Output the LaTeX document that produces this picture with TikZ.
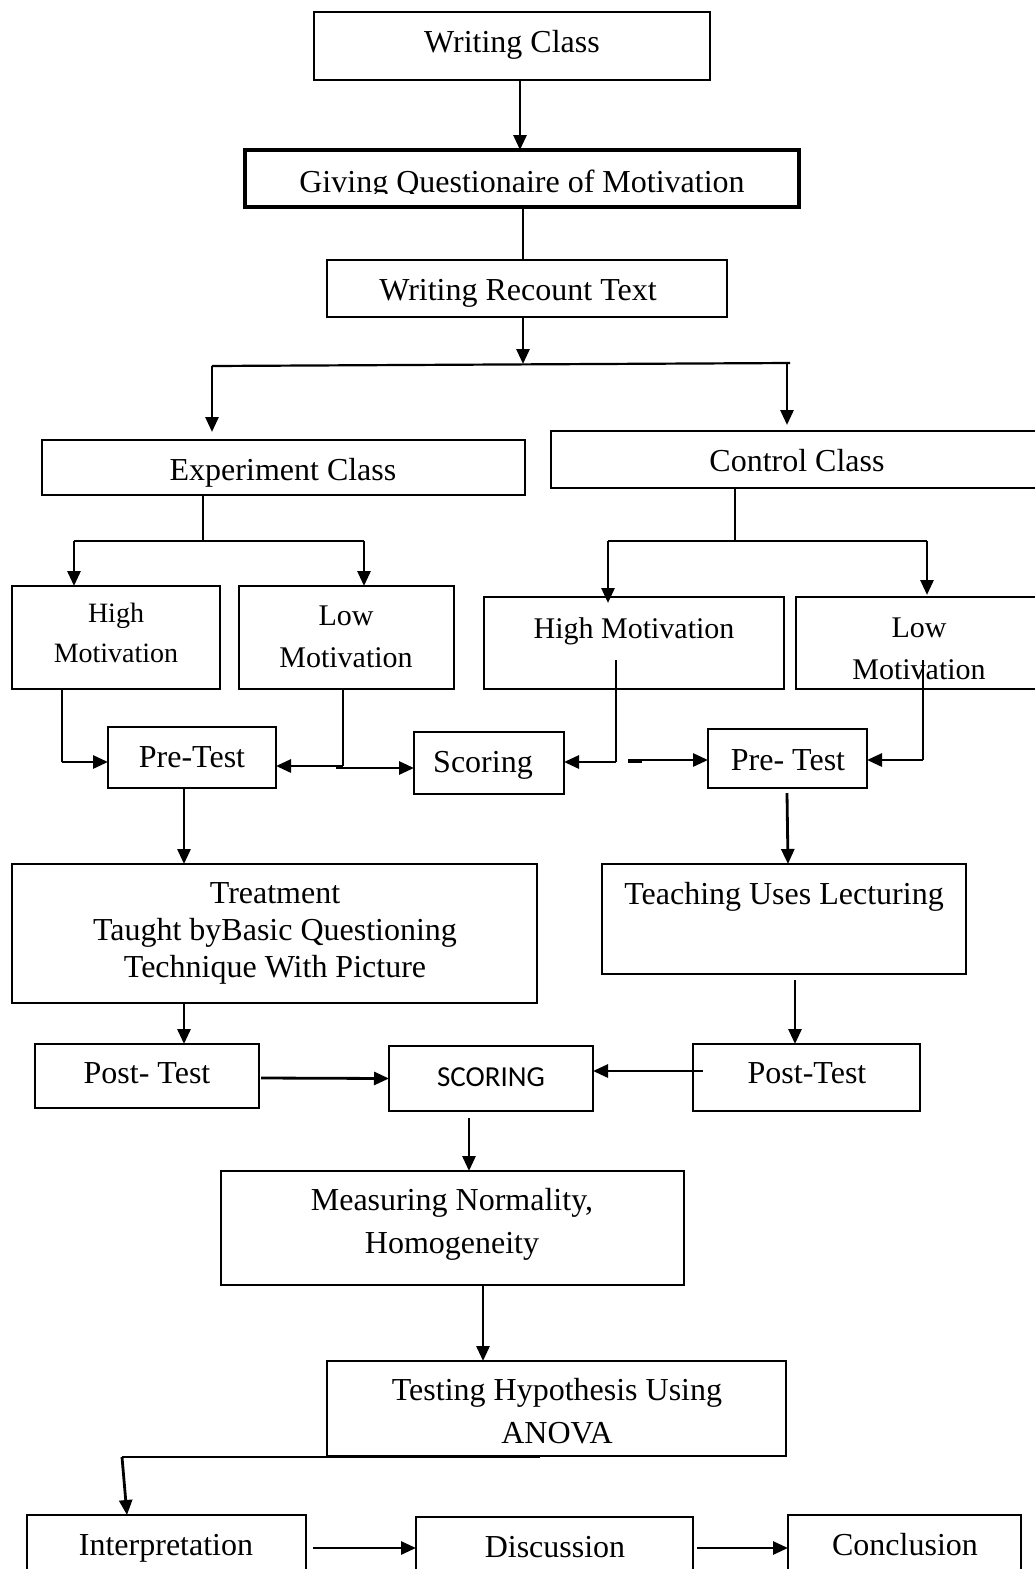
\documentclass[tikz,border=0pt]{standalone}
\usepackage{fontspec}
\setmainfont{Liberation Serif}
\newfontfamily\scorefont{Carlito}
\usetikzlibrary{arrows.meta,calc}
\newcommand\bx[6][]{\node[box,#1,minimum width={#4-#2},minimum height={#5-#3}] (#6) at ({(#2+#4)/2},{(#3+#5)/2}) {};}
\begin{document}
\begin{tikzpicture}[x=1pt,y=-1pt,
 box/.style={draw,line width=1.4pt,inner sep=0pt,outer sep=0pt},
 thickbox/.style={line width=4.5pt},
 txt/.style={anchor=base,inner sep=0pt,font=\fontsize{32}{38}\selectfont},
 mtxt/.style={anchor=base,inner sep=0pt,font=\fontsize{30}{36}\selectfont},
 stxt/.style={anchor=base,inner sep=0pt,font=\fontsize{28}{34}\selectfont},
 ln/.style={line width=2.2pt},
 arr/.style={line width=2.8pt,-{Triangle[length=15pt,width=13pt]}}]
\useasboundingbox (0,0) rectangle (1035,1569);
\clip (0,0) rectangle (1035,1569);
% boxes
\bx{314}{12}{710}{80}{wc}
\bx[thickbox]{245}{150}{799}{207}{gq}
\bx{327}{260}{727}{317}{wr}
\bx{42}{440}{525}{495}{ec}
\bx{551}{431}{1045}{488}{cc}
\bx{12}{586}{220}{689}{hl}
\bx{239}{586}{454}{689}{ll}
\bx{484}{597}{784}{689}{hr}
\bx{796}{597}{1045}{689}{lr}
\bx{108}{727}{276}{788}{pl}
\bx{414}{732}{564}{794}{sc}
\bx{708}{729}{867}{788}{pr}
\bx{12}{864}{537}{1003}{tr}
\bx{602}{864}{966}{974}{tl}
\bx{35}{1044}{259}{1108}{pt1}
\bx{389}{1046}{593}{1111}{sc2}
\bx{693}{1044}{920}{1111}{pt2}
\bx{221}{1171}{684}{1285}{ms}
\bx{327}{1361}{786}{1456}{th}
\bx{27}{1515}{306}{1590}{ip}
\bx[line width=2.4pt]{416}{1517}{693}{1590}{ds}
\bx[line width=2pt]{788}{1515}{1021}{1590}{cn}
% texts
\node[txt] (t-wc) at (512,52) {Writing Class};
\begin{scope}
\clip (250,150) rectangle (795,193);
\node[txt] (t-gq) at (522,192) {Giving Questionaire of Motivation};
\end{scope}
\node[txt] (t-wr) at (518,300) {Writing Recount Text};
\node[txt] (t-ec) at (283,480) {Experiment Class};
\node[txt] (t-cc) at (797,471) {Control Class};
\node[stxt] (t-hl1) at (116,622) {High};
\node[stxt] (t-hl2) at (116,662) {Motivation};
\node[mtxt] (t-ll1) at (346,625) {Low};
\node[mtxt] (t-ll2) at (346,667) {Motivation};
\node[mtxt] (t-hr) at (634,638) {High Motivation};
\node[mtxt] (t-lr1) at (919,637) {Low};
\node[mtxt] (t-lr2) at (919,679) {Motivation};
\node[txt] (t-pl) at (192,767) {Pre-Test};
\node[txt] (t-sc) at (483,772) {Scoring};
\node[txt] (t-pr) at (788,770) {Pre- Test};
\node[txt] (t-tr1) at (275,903) {Treatment};
\node[txt] (t-tr2) at (275,940) {Taught byBasic Questioning};
\node[txt] (t-tr3) at (275,977) {Technique With Picture};
\node[txt] (t-tl) at (784,904) {Teaching Uses Lecturing};
\node[txt] (t-pt1) at (147,1083) {Post- Test};
\node[anchor=base,inner sep=0pt,font=\scorefont\fontsize{29}{34}\selectfont] (t-sc2) at (491,1086) {SCORING};
\node[txt] (t-pt2) at (807,1083) {Post-Test};
\node[txt] (t-ms1) at (452,1210) {Measuring Normality,};
\node[txt] (t-ms2) at (452,1253) {Homogeneity};
\node[txt] (t-th1) at (557,1400) {Testing Hypothesis Using};
\node[txt] (t-th2) at (557,1443) {ANOVA};
\node[txt] (t-ip) at (166,1555) {Interpretation};
\node[txt] (t-ds) at (555,1557) {Discussion};
\node[txt] (t-cn) at (905,1555) {Conclusion};
% coordinates
\coordinate (x520) at (520,0);
\coordinate (x523) at (523,0);
\coordinate (split) at (523,364);
\coordinate (sl) at (212,366);
\coordinate (sr) at (790,363);
\coordinate (srd) at (787,364);
\coordinate (ej) at (203,541);
\coordinate (el) at (74,541);
\coordinate (er) at (364,541);
\coordinate (cj) at (735,541);
\coordinate (cl) at (608,541);
\coordinate (cr) at (927,541);
\coordinate (hlc) at (62,762);
\coordinate (llc) at (343,766);
\coordinate (llc2) at (336,768);
\coordinate (hrt) at (616,660);
\coordinate (hrc) at (616,762);
\coordinate (hrc2) at (628,760);
\coordinate (lrt) at (923,660);
\coordinate (lrc) at (923,760);
\coordinate (x184) at (184,0);
\coordinate (prb) at (787,793);
\coordinate (x788) at (788,0);
\coordinate (tlb) at (795,980);
\coordinate (pta) at (261,1078);
\coordinate (c703) at (703,1071);
\coordinate (s2b) at (469,1118);
\coordinate (x483) at (483,0);
\coordinate (tb1) at (540,1457);
\coordinate (tb2) at (122,1457);
\coordinate (ipa) at (127,0);
\coordinate (ia) at (313,1548);
\coordinate (da) at (697,1548);
% connectors
\draw[arr] (x520 |- wc.south) -- (x520 |- gq.north);
\draw[ln] (x523 |- gq.south) -- (x523 |- wr.north);
\draw[arr] (x523 |- wr.south) -- (split);
\draw[ln] (sl) -- (sr);
\draw[arr,shorten >=8pt] (sl) -- (sl |- ec.north);
\draw[arr,shorten >=6pt] (srd) -- (srd |- cc.north);
\draw[ln] (ej |- ec.south) -- (ej);
\draw[ln] (el) -- (er);
\draw[arr] (el) -- (el |- hl.north);
\draw[arr] (er) -- (er |- ll.north);
\draw[ln] (cj |- cc.south) -- (cj);
\draw[ln] (cl) -- (cr);
\draw[arr,shorten >=-6pt] (cl) -- (cl |- hr.north);
\draw[arr,shorten >=2pt] (cr) -- (cr |- lr.north);
\draw[ln] (hlc |- hl.south) -- (hlc);
\draw[arr] (hlc) -- (hlc -| pl.west);
\draw[ln,line width=2.8pt] (llc |- ll.south) -- (llc);
\draw[arr] (llc) -- (llc -| pl.east);
\draw[arr] (llc2) -- (llc2 -| sc.west);
\draw[ln] (hrt) -- (hrc);
\draw[arr] (hrc) -- (hrc -| sc.east);
\draw[line width=4pt] (628,761) -- (642,761);
\draw[arr] (hrc2) -- (hrc2 -| pr.west);
\draw[ln] (lrt) -- (lrc);
\draw[arr] (lrc) -- (lrc -| pr.east);
\draw[arr] (x184 |- pl.south) -- (x184 |- tr.north);
\draw[arr] (prb) -- (x788 |- tl.north);
\draw[arr] (x184 |- tr.south) -- (x184 |- pt1.north);
\draw[arr] (tlb) -- (tlb |- pt2.north);
\draw[arr] (pta) -- (sc2.west);
\draw[arr] (c703) -- (c703 -| sc2.east);
\draw[arr] (s2b) -- (s2b |- ms.north);
\draw[arr] (x483 |- ms.south) -- (x483 |- th.north);
\draw[ln,line width=2.8pt] (tb1) -- (tb2);
\draw[arr] (tb2) -- (ipa |- ip.north);
\draw[arr] (ia) -- (ia -| ds.west);
\draw[arr] (da) -- (da -| cn.west);
\end{tikzpicture}
\end{document}
